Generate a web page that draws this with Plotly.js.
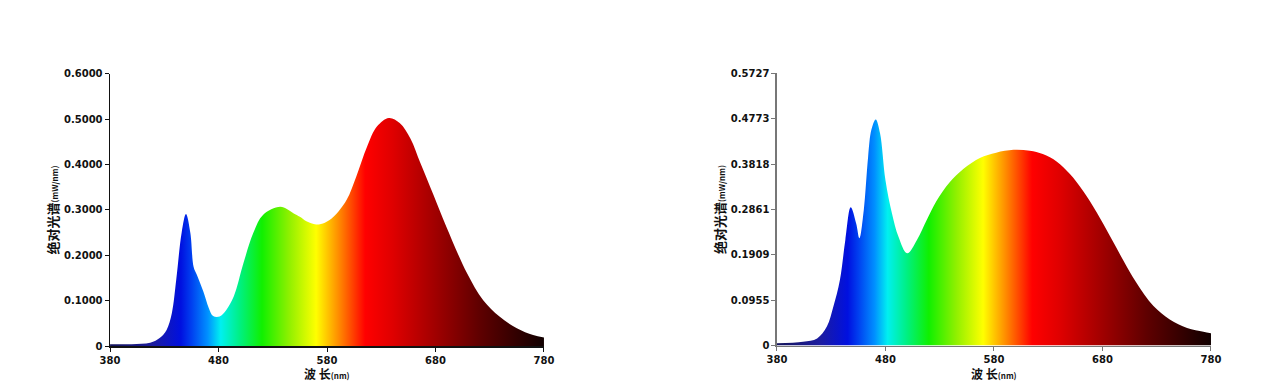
<!DOCTYPE html>
<html>
<head>
<meta charset="utf-8">
<script src="https://cdn.plot.ly/plotly-3.0.1.min.js"></script>
<style>
html,body{margin:0;padding:0;background:#fff;}
#chart{width:1265px;height:390px;}
</style>
</head>
<body>
<div id="chart"></div>
<script>
// ---- data ----
const leftWavelength = [380,400,417,426,432,437,441,446,450,454,457,460,466,471,475,481,487,494,503,512,521,537,549,555,561,570,578,586,598,607,617,626,637,647,657,666,678,690,709,724,739,755,770,780];
const leftValue      = [0.004,0.004,0.007,0.018,0.035,0.073,0.146,0.250,0.291,0.250,0.175,0.157,0.120,0.084,0.066,0.065,0.079,0.109,0.183,0.249,0.289,0.307,0.293,0.285,0.275,0.268,0.272,0.285,0.322,0.374,0.440,0.484,0.503,0.492,0.457,0.404,0.334,0.263,0.161,0.101,0.065,0.039,0.024,0.019];

const rightWavelength = [380,404,417,426,432,438,443,448,453,456,460,464,467,471,475,480,486,492,500,509,518,527,539,552,567,582,598,613,625,638,650,662,675,687,699,711,727,742,758,773,780];
const rightValue      = [0.005,0.008,0.015,0.040,0.082,0.138,0.222,0.291,0.257,0.226,0.285,0.397,0.454,0.476,0.447,0.348,0.278,0.229,0.194,0.222,0.264,0.304,0.343,0.372,0.395,0.406,0.412,0.410,0.403,0.387,0.361,0.326,0.279,0.230,0.180,0.133,0.083,0.055,0.037,0.029,0.026];

const xTickValues = [380,480,580,680,780];
const xTickLabels = ['380','480','580','680','780'];
const leftYTickValues = [0,0.1,0.2,0.3,0.4,0.5,0.6];
const leftYTickLabels = ['0','0.1000','0.2000','0.3000','0.4000','0.5000','0.6000'];
const rightYTickValues = [0,0.0955,0.1909,0.2861,0.3818,0.4773,0.5727];
const rightYTickLabels = ['0','0.0955','0.1909','0.2861','0.3818','0.4773','0.5727'];

const xTitle = '波 长<span style="font-size:8px">(nm)</span>';
const yTitle = '绝对光谱<span style="font-size:8px">(mW/nm)</span>';

// spectral colours along the wavelength axis (380..780 nm)
const spectrum = [
  [0.000,'#14145a'],
  [0.100,'#1c1ca0'],
  [0.163,'#0010e0'],
  [0.188,'#0040f0'],
  [0.225,'#0090ff'],
  [0.255,'#00f0f0'],
  [0.300,'#00f080'],
  [0.350,'#10f000'],
  [0.413,'#90f000'],
  [0.475,'#ffff00'],
  [0.525,'#ff9000'],
  [0.588,'#ff0000'],
  [0.650,'#e00000'],
  [0.750,'#a00000'],
  [0.850,'#600000'],
  [1.000,'#100000']
];

function spectrumTrace(x, y, xa, ya){
  return {
    x: x, y: y, xaxis: xa, yaxis: ya,
    type: 'scatter', mode: 'lines',
    line: {shape: 'spline', smoothing: 1, width: 0, color: 'rgba(0,0,0,0)'},
    fill: 'tozeroy',
    fillgradient: {type: 'horizontal', start: 380, stop: 780, colorscale: spectrum},
    hoverinfo: 'x+y', showlegend: false
  };
}

const tickFont = {family: 'DejaVu Sans, sans-serif', size: 10, color: '#111', weight: 'bold'};
const titleFont = {family: 'Noto Sans CJK SC, sans-serif', size: 13, color: '#111', weight: 'bold'};
const xTitleFont = {family: 'Noto Sans CJK SC, sans-serif', size: 12, color: '#111', weight: 'bold'};

function xAxis(domain, anchor, lineColor){
  return {
    domain: domain, anchor: anchor, range: [380,780],
    tickvals: xTickValues, ticktext: xTickLabels,
    ticks: 'outside', ticklen: 4, tickcolor: lineColor,
    showline: true, linecolor: lineColor, linewidth: 1.5,
    showgrid: false, zeroline: false, tickfont: tickFont
  };
}
function yAxis(domain, anchor, range, vals, labels, lineColor){
  return {
    domain: domain, anchor: anchor, range: range,
    tickvals: vals, ticktext: labels,
    ticks: 'outside', ticklen: 4, tickcolor: lineColor,
    showline: true, linecolor: lineColor, linewidth: 1.5,
    showgrid: false, zeroline: false, tickfont: tickFont,
    title: {text: yTitle, font: titleFont, standoff: 2}
  };
}

const data = [
  spectrumTrace(leftWavelength, leftValue, 'x', 'y'),
  spectrumTrace(rightWavelength, rightValue, 'x2', 'y2')
];

const layout = {
  width: 1265, height: 390,
  margin: {l: 0, r: 0, t: 0, b: 0},
  paper_bgcolor: '#ffffff', plot_bgcolor: '#ffffff',
  xaxis: xAxis([0.0870, 0.4300], 'y', '#111'),
  yaxis: yAxis([0.1128, 0.8103], 'x', [0, 0.6], leftYTickValues, leftYTickLabels, '#111'),
  xaxis2: xAxis([0.6142, 0.9573], 'y2', '#777'),
  yaxis2: yAxis([0.1141, 0.8116], 'x2', [0, 0.5727], rightYTickValues, rightYTickLabels, '#777'),
  annotations: [
    {text: xTitle, xref: 'x domain', yref: 'paper', x: 0.5, y: 0.043, xanchor: 'center', yanchor: 'middle', showarrow: false, borderpad: 0, font: xTitleFont},
    {text: xTitle, xref: 'x2 domain', yref: 'paper', x: 0.5, y: 0.043, xanchor: 'center', yanchor: 'middle', showarrow: false, borderpad: 0, font: xTitleFont}
  ]
};

Plotly.newPlot('chart', data, layout, {staticPlot: true});
</script>
</body>
</html>
